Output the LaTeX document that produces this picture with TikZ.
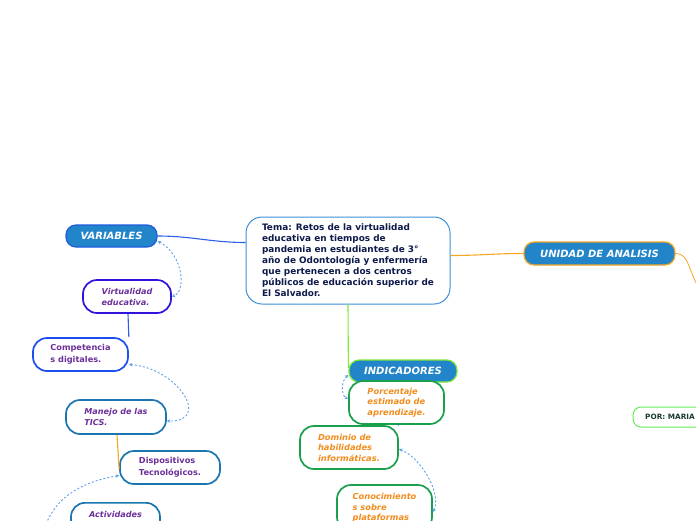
\documentclass[tikz,border=0pt]{standalone}
\usepackage{fontspec}
\setmainfont{DejaVu Sans}
\usetikzlibrary{arrows.meta}
\definecolor{cborder}{HTML}{3D8FD6}
\definecolor{navy}{HTML}{0D1A4A}
\definecolor{topicblue}{HTML}{2385C9}
\definecolor{varborder}{HTML}{1E5BE0}
\definecolor{virtborder}{HTML}{3311DD}
\definecolor{compborder}{HTML}{1C4DF0}
\definecolor{tealborder}{HTML}{1B75B0}
\definecolor{purpletext}{HTML}{6B2F9A}
\definecolor{greenborder}{HTML}{1AA04C}
\definecolor{limeborder}{HTML}{7EE83A}
\definecolor{orangetext}{HTML}{F28C1C}
\definecolor{orangeline}{HTML}{F5A623}
\definecolor{dashblue}{HTML}{5AA0EA}
\definecolor{linkblue}{HTML}{2C5FE6}
\definecolor{mariaborder}{HTML}{66EE55}
\definecolor{mariatext}{HTML}{1A3A2A}
\begin{document}
\begin{tikzpicture}[x=1pt,y=-1pt,
  central/.style={draw=cborder, fill=white, rounded corners=16pt, line width=1pt,
    align=left, inner sep=0pt, text=navy,
    font=\bfseries\fontsize{8.9}{11}\selectfont},
  topic/.style={draw, fill=topicblue, rounded corners=10pt, line width=1.2pt,
    text=white, inner sep=0pt, font=\bfseries\itshape\fontsize{10}{11}\selectfont},
  box/.style={draw, fill=white, rounded corners=14pt, line width=1.7pt,
    align=left, inner sep=0pt},
  purp/.style={text=purpletext, font=\bfseries\fontsize{8.2}{11.5}\selectfont},
  purpit/.style={text=purpletext, font=\bfseries\itshape\fontsize{8.1}{11}\selectfont},
  orng/.style={text=orangetext, font=\bfseries\itshape\fontsize{8.3}{10.6}\selectfont},
  link/.style={line width=1.1pt},
  dlink/.style={draw=dashblue, line width=0.9pt, dash pattern=on 2pt off 2pt,
    {Stealth[length=3.5pt,width=3.5pt]}-{Stealth[length=3.5pt,width=3.5pt]}},
]
\useasboundingbox (0,0) rectangle (696,520);
\clip (0,0) rectangle (696,520);

\coordinate (uaend) at (705,300);
\coordinate (actend) at (42,540);

% nodes
\node[central, minimum width=204pt, minimum height=87pt] (tema) at (348,260.5)
  {Tema: Retos de la virtualidad\\educativa en tiempos de\\pandemia en estudiantes de 3°\\año de Odontología y enfermería\\que pertenecen a dos centros\\públicos de educación superior de\\El Salvador.};

\node[topic, draw=varborder, minimum width=91pt, minimum height=22pt] (var) at (111.5,236) {VARIABLES};
\node[topic, draw=limeborder, minimum width=108pt, minimum height=22pt] (ind) at (403,371) {INDICADORES};
\node[topic, draw=orangeline, minimum width=151pt, minimum height=23pt] (ua) at (599.5,253.5) {UNIDAD DE ANALISIS};

\node[box, purpit, draw=virtborder, minimum width=88pt, minimum height=33pt] (virt) at (127,296.5) {Virtualidad\\educativa.};
\node[box, purp, draw=compborder, minimum width=95pt, minimum height=33pt] (comp) at (80.5,354.5) {Competencia\\s digitales.};
\node[box, purpit, draw=tealborder, minimum width=100pt, minimum height=34pt] (man) at (116,417) {Manejo de las\\TICS.};
\node[box, purp, draw=tealborder, minimum width=100pt, minimum height=33pt] (disp) at (170,467.5) {Dispositivos\\Tecnológicos.};
\node[box, purpit, draw=tealborder, minimum width=89pt, minimum height=34pt, anchor=north] (act) at (115.5,502) {Actividades\\\phantom{A}};

\node[box, orng, draw=greenborder, minimum width=95pt, minimum height=43pt] (porc) at (396.5,402.5) {Porcentaje\\estimado de\\aprendizaje.};
\node[box, orng, draw=greenborder, minimum width=98pt, minimum height=43pt] (dom) at (349,447.5) {Dominio de\\habilidades\\informáticas.};
\node[box, orng, draw=greenborder, minimum width=95pt, minimum height=46pt] (con) at (384.5,508) {Conocimiento\\s sobre\\plataformas};

\node[draw=mariaborder, fill=white, rounded corners=8pt, line width=1pt, minimum width=74pt, minimum height=20pt, inner sep=0pt,
  text=mariatext, font=\bfseries\fontsize{7.3}{8}\selectfont] (maria) at (670,417) {POR: MARIA};

% solid connectors
\draw[link, draw=linkblue] (var.east) to[out=0,in=180] ([yshift=18pt]tema.west);
\draw[link, draw=orangeline] ([yshift=5pt]tema.east) to[out=0,in=180] (ua.west);
\draw[link, draw=orangeline, line width=0.8pt] (ua.east) .. controls (690,254) and (686,268) .. (uaend);
\draw[link, draw=limeborder] (tema.south) -- ([yshift=3pt]ind.west);
\draw[link, draw=linkblue] ([xshift=1pt]virt.south) -- (comp.north east);
\draw[link, draw=orangeline] ([xshift=1pt]man.south) -- ([yshift=-2pt]disp.west);
\draw[link, draw=linkblue] ([xshift=1.5pt]porc.south) -- (dom.north east);

% dashed relations
\draw[dlink] ([yshift=-5pt]var.east) .. controls (184,255) and (186,292) .. (virt.east);
\draw[dlink] ([yshift=-10pt]comp.east) .. controls (178,368) and (212,422) .. ([yshift=-4pt]man.east);
\draw[dlink, {Stealth[length=3.5pt,width=3.5pt]}-] ([yshift=-8pt]disp.west) .. controls (80,482) and (48,500) .. (actend);
\draw[dlink] ([yshift=-4pt]ind.west) .. controls (341,381) and (341,396) .. ([yshift=4pt]porc.west);
\draw[dlink] ([yshift=-1.5pt]dom.east) .. controls (422,458) and (442,495) .. ([yshift=-4pt]con.east);
\end{tikzpicture}
\end{document}
